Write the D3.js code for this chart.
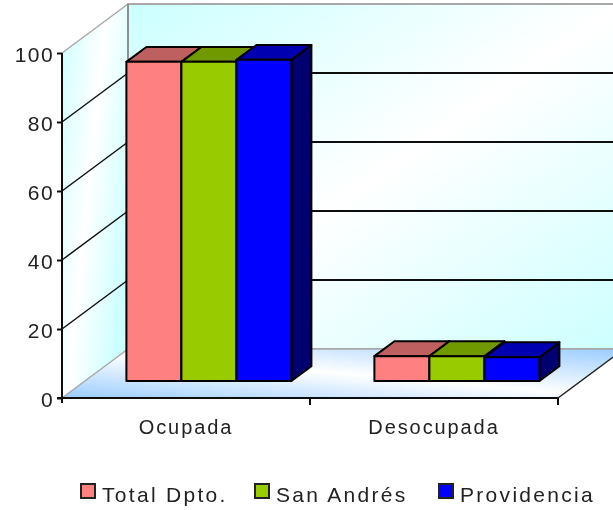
<!DOCTYPE html>
<html><head><meta charset="utf-8">
<script src="https://cdnjs.cloudflare.com/ajax/libs/d3/7.8.5/d3.min.js"></script>
<style>html,body{margin:0;padding:0;background:#fff;overflow:hidden}svg{display:block}
text{font-family:"Liberation Sans",Arial,sans-serif;fill:#222}</style></head><body>
<svg id="c" width="613" height="510"></svg>
<script>
const categories = ["Ocupada", "Desocupada"];
const seriesNames = ["Total Dpto.", "San Andrés", "Providencia"];
const totalDpto = [92.5, 7.2];
const sanAndres = [92.5, 7.2];
const providencia = [93.1, 6.9];
const yTicks = [0, 20, 40, 60, 80, 100];
const faceColors = ["#FF8080", "#99CC00", "#0000FF"];
const topColors = ["#BF6060", "#709900", "#0000B0"];
const sideColors = ["#604040", "#4c6600", "#000070"];

const seriesValues = [totalDpto, sanAndres, providencia];
const svg = d3.select("#c");
const y = d3.scaleLinear().domain([0, 100]).range([398, 53]);
const x0 = d3.scaleBand().domain(categories).range([62, 558]);
const x1 = d3.scaleBand().domain(seriesNames).range([0, 165]);
const DX = 66, DY = 49;
const P = (x, yy, d) => [x + d * DX, yy - d * DY];
const poly = pts => "M" + pts.map(p => p.join(",")).join("L") + "Z";

const defs = svg.append("defs");
function grad(id, x1g, y1g, x2g, y2g, c) {
  const g = defs.append("linearGradient").attr("id", id)
    .attr("x1", x1g).attr("y1", y1g).attr("x2", x2g).attr("y2", y2g);
  g.append("stop").attr("offset", 0).attr("stop-color", c);
  g.append("stop").attr("offset", .5).attr("stop-color", "#fff");
  g.append("stop").attr("offset", 1).attr("stop-color", c);
}
grad("wall", 0, 0, 1, 1, "#CCFFFF");
grad("side", 0, 0, 1, .6, "#CCFFFF");
grad("floor", 0, 1, 1, 0, "#99CCFF");
const blur = defs.append("filter").attr("id", "soft").attr("filterUnits", "userSpaceOnUse")
  .attr("x", 0).attr("y", 0).attr("width", 613).attr("height", 510);
blur.append("feGaussianBlur").attr("stdDeviation", .6);

const root = svg.append("g").attr("filter", "url(#soft)");
const xL = x0.range()[0], xR = x0.range()[1], y0 = y(0), yT = y(100);

// walls and floor
root.append("path").attr("d", poly([P(xL, y0, 1), P(xL, yT, 1), P(xR, yT, 1), P(xR, y0, 1)]))
  .attr("fill", "url(#wall)").attr("stroke", "#a8a8a8").attr("stroke-width", 2);
root.append("path").attr("d", poly([P(xL, y0, 0), P(xL, yT, 0), P(xL, yT, 1), P(xL, y0, 1)]))
  .attr("fill", "url(#side)").attr("stroke", "none");
root.append("path").attr("d", poly([P(xL, y0, 0), P(xR, y0, 0), P(xR, y0, 1), P(xL, y0, 1)]))
  .attr("fill", "url(#floor)").attr("stroke", "none");
const edge = (a, b, col, w) => root.append("line").attr("x1", a[0]).attr("y1", a[1]).attr("x2", b[0]).attr("y2", b[1])
  .attr("stroke", col).attr("stroke-width", w);
edge(P(xL, yT, 0), P(xL, yT, 1), "#a8a8a8", 1.5);
edge(P(xL, y0, 0), P(xL, y0, 1), "#a8a8a8", 1.5);
edge(P(xL, y0, 1), P(xR, y0, 1), "#a8a8a8", 1.5);
edge(P(xL, yT, 1), P(xL, y0, 1), "#909090", 2);
edge(P(xR, y0, 0), P(xR, y0, 1), "#222", 1.5);

// gridlines
yTicks.filter(t => t > 0 && t < 100).forEach(t => {
  edge(P(xL, y(t), 0), P(xL, y(t), 1), "#111", 1.5);
  edge(P(xL, y(t), 1), P(xR, y(t), 1), "#111", 2);
});

// bars
const dF = 0.347, dB = 0.65;
categories.forEach((cat, i) => {
  const start = x0(cat) + (x0.bandwidth() - x1.range()[1]) / 2;
  seriesNames.forEach((s, k) => {
    const a = start + x1(s), b = a + x1.bandwidth(), yv = y(seriesValues[k][i]);
    const g = root.append("g").attr("stroke", "#000").attr("stroke-width", 2).attr("stroke-linejoin", "round");
    g.append("path").attr("fill", sideColors[k]).attr("d", poly([P(b, y0, dF), P(b, y0, dB), P(b, yv, dB), P(b, yv, dF)]));
    g.append("path").attr("fill", topColors[k]).attr("d", poly([P(a, yv, dF), P(a, yv, dB), P(b, yv, dB), P(b, yv, dF)]));
    g.append("path").attr("fill", faceColors[k]).attr("d", poly([P(a, y0, dF), P(a, yv, dF), P(b, yv, dF), P(b, y0, dF)]));
  });
});

// axes
const axY = root.append("g").attr("transform", `translate(${xL},0)`)
  .call(d3.axisLeft(y).tickValues(yTicks).tickSize(5).tickPadding(3).tickFormat(d3.format("d")));
axY.select(".domain").attr("stroke", "#111").attr("stroke-width", 2).attr("d", `M0,${yT}V${y0}`);
axY.selectAll("line").attr("stroke", "#111").attr("stroke-width", 2);
axY.selectAll("text").attr("font-size", 21).attr("font-family", '"Liberation Sans"').attr("fill", "#222")
  .attr("dy", "0.4em").style("letter-spacing", "1.4px");

const axX = root.append("g").attr("transform", `translate(0,${y0})`)
  .call(d3.axisBottom(x0).tickSize(0).tickPadding(0));
axX.select(".domain").attr("stroke", "#111").attr("stroke-width", 2).attr("d", `M${xL - 5},0H${xR}`);
axX.selectAll("line").remove();
axX.selectAll("text").attr("y", 36).attr("dy", 0).attr("font-size", 20).attr("font-family", '"Liberation Sans"')
  .attr("fill", "#222").style("letter-spacing", "1.9px");
[...categories.map(c => x0(c)), xR].forEach(v => {
  if (v > xL) axX.append("line").attr("x1", v).attr("x2", v).attr("y1", 0).attr("y2", 7).attr("stroke", "#111").attr("stroke-width", 2);
});
axX.append("line").attr("x1", xL).attr("x2", xL).attr("y1", 0).attr("y2", 5).attr("stroke", "#111").attr("stroke-width", 2);

// legend
const legendX = d3.scaleOrdinal().domain(seriesNames).range([81, 255, 439]);
const lg = root.selectAll("g.lg").data(seriesNames).join("g").attr("class", "lg")
  .attr("transform", d => `translate(${legendX(d)},484)`);
lg.append("rect").attr("width", 14).attr("height", 14)
  .attr("fill", (d, i) => faceColors[i]).attr("stroke", "#222").attr("stroke-width", 2);
lg.append("text").text(d => d).attr("x", 21).attr("y", 18).attr("font-size", 21).style("letter-spacing", "2.3px");
</script></body></html>
